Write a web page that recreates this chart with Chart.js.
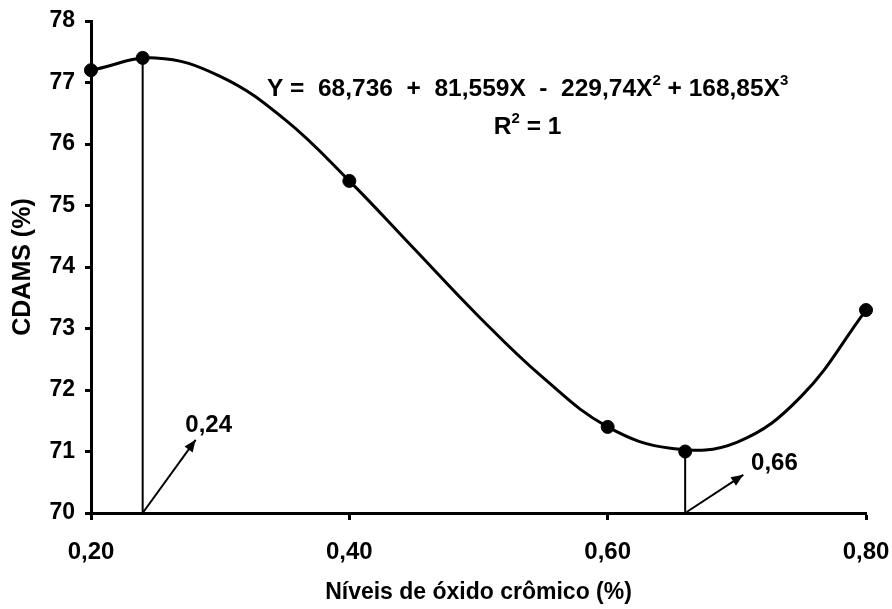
<!DOCTYPE html>
<html>
<head>
<meta charset="utf-8">
<script src="https://cdn.jsdelivr.net/npm/chart.js@4/dist/chart.umd.min.js"></script>
<style>
	body { margin: 0; background: #fff; }
	#wrap { width: 892px; height: 609px; }
</style>
</head>
<body>
<div id="wrap"><canvas id="cdamsChart" width="892" height="609"></canvas></div>
<script>
// observed means
const levels = [0.20, 0.24, 0.40, 0.60, 0.66, 0.80];
const cdams = [77.2, 77.4, 75.4, 71.4, 71.0, 73.3];

// fitted curve
const curveX = [0.20, 0.25, 0.30, 0.35, 0.40, 0.45, 0.50, 0.55, 0.60, 0.65, 0.70, 0.75, 0.80];
const curveY = [77.2, 77.4, 77.1, 76.4, 75.4, 74.3, 73.2, 72.2, 71.4, 71.05, 71.15, 71.9, 73.3];

// marked optimum levels and their arrows
const markX = [0.24, 0.66];
const markY = [77.4, 71.0];
const arrowTipX = [0.281, 0.705];
const arrowTipY = [71.19, 70.62];
const markLabels = ["0,24", "0,66"];

const yTicks = [70, 71, 72, 73, 74, 75, 76, 77, 78];
const xTicks = [0.20, 0.40, 0.60, 0.80];

const FONT = "'Liberation Sans', Arial, sans-serif";
const pts = (xs, ys) => xs.map((x, i) => ({ x: x, y: ys[i] }));

const datasets = [
	{
		label: "curve",
		data: pts(curveX, curveY),
		borderColor: "#000",
		borderWidth: 3,
		pointRadius: 0,
		tension: 0.4,
		clip: false,
	},
	{
		label: "observed",
		data: pts(levels, cdams),
		showLine: false,
		pointRadius: 6.5,
		pointBackgroundColor: "#000",
		pointBorderColor: "#000",
		clip: false,
	},
];

markX.forEach((mx, i) => {
	datasets.push({
		label: "guide" + i,
		data: [{ x: mx, y: markY[i] }, { x: mx, y: 70 }],
		borderColor: "#000",
		borderWidth: 2,
		pointRadius: 0,
		clip: false,
	});
	datasets.push({
		label: "arrow" + i,
		data: [{ x: mx, y: 70 }, { x: arrowTipX[i], y: arrowTipY[i] }],
		borderColor: "#000",
		borderWidth: 2,
		pointRadius: 0,
		clip: false,
	});
});

// arrow heads, mark labels and the equation
const notesPlugin = {
	id: "notes",
	afterDatasetsDraw(chart) {
		const ctx = chart.ctx;
		const xs = chart.scales.x;
		const ys = chart.scales.y;
		ctx.save();
		ctx.fillStyle = "#000";

		chart.data.datasets.forEach((ds, di) => {
			if (!ds.label.startsWith("arrow")) return;
			const el = chart.getDatasetMeta(di).data;
			const a = el[0], b = el[1];
			const ang = Math.atan2(b.y - a.y, b.x - a.x);
			const len = 12, half = 5;
			ctx.beginPath();
			ctx.moveTo(b.x, b.y);
			ctx.lineTo(b.x - len * Math.cos(ang) + half * Math.sin(ang), b.y - len * Math.sin(ang) - half * Math.cos(ang));
			ctx.lineTo(b.x - len * Math.cos(ang) - half * Math.sin(ang), b.y - len * Math.sin(ang) + half * Math.cos(ang));
			ctx.closePath();
			ctx.fill();
		});

		ctx.font = "bold 24px " + FONT;
		ctx.textBaseline = "middle";
		ctx.textAlign = "left";
		ctx.fillText(markLabels[0], xs.getPixelForValue(0.273), ys.getPixelForValue(71.43));
		ctx.fillText(markLabels[1], xs.getPixelForValue(0.711), ys.getPixelForValue(70.81));

		const eq = [
			["Y =  68,736  +  81,559X  -  229,74X", 0], ["2", 1],
			[" + 168,85X", 0], ["3", 1],
		];
		drawRich(ctx, eq, xs.getPixelForValue(0.538), ys.getPixelForValue(76.89));
		drawRich(ctx, [["R", 0], ["2", 1], [" = 1", 0]], xs.getPixelForValue(0.538), ys.getPixelForValue(76.28));
		ctx.restore();
	},
};

function drawRich(ctx, parts, cx, cy) {
	const mainFont = "bold 24.5px " + FONT;
	const supFont = "bold 15px " + FONT;
	let total = 0;
	parts.forEach(([t, sup]) => {
		ctx.font = sup ? supFont : mainFont;
		total += ctx.measureText(t).width;
	});
	let x = cx - total / 2;
	ctx.textAlign = "left";
	ctx.textBaseline = "middle";
	parts.forEach(([t, sup]) => {
		ctx.font = sup ? supFont : mainFont;
		ctx.fillText(t, x, sup ? cy - 8 : cy);
		x += ctx.measureText(t).width;
	});
}

const ctx = document.getElementById("cdamsChart").getContext("2d");
new Chart(ctx, {
	type: "line",
	data: { datasets: datasets },
	plugins: [notesPlugin],
	options: {
		responsive: false,
		animation: false,
		layout: { padding: { left: 0, right: 26, top: 21, bottom: 0 } },
		plugins: { legend: { display: false }, tooltip: { enabled: false } },
		scales: {
			x: {
				type: "linear",
				min: 0.2,
				max: 0.8,
				afterFit: (s) => {
					s.height = 96;
					s.paddingLeft = 0;
					s.paddingRight = 0;
				},
				afterBuildTicks: (s) => { s.ticks = xTicks.map((v) => ({ value: v })); },
				border: { display: true, color: "#000", width: 3 },
				grid: { drawOnChartArea: false, drawTicks: true, tickLength: 7, tickWidth: 3, color: "#000" },
				ticks: {
					color: "#000",
					padding: 18,
					maxRotation: 0,
					font: { family: FONT, size: 24, weight: "bold" },
					callback: (v) => v.toFixed(2).replace(".", ","),
				},
				title: {
					display: true,
					text: "Níveis de óxido crômico (%)",
					color: "#000",
					padding: { top: 0, bottom: 3 },
					font: { family: FONT, size: 23, weight: "bold" },
				},
			},
			y: {
				min: 70,
				max: 78,
				afterFit: (s) => {
					s.width = 91;
					s.paddingTop = 0;
					s.paddingBottom = 0;
				},
				afterBuildTicks: (s) => { s.ticks = yTicks.map((v) => ({ value: v })); },
				border: { display: true, color: "#000", width: 3 },
				grid: { drawOnChartArea: false, drawTicks: true, tickLength: 6, tickWidth: 3, color: "#000" },
				ticks: {
					color: "#000",
					padding: 10,
					font: { family: FONT, size: 23, weight: "bold" },
					callback: (v) => String(v),
				},
				title: {
					display: true,
					text: "CDAMS (%)",
					color: "#000",
					padding: { top: 8, bottom: 0 },
					font: { family: FONT, size: 25, weight: "bold" },
				},
			},
		},
	},
});
</script>
</body>
</html>
